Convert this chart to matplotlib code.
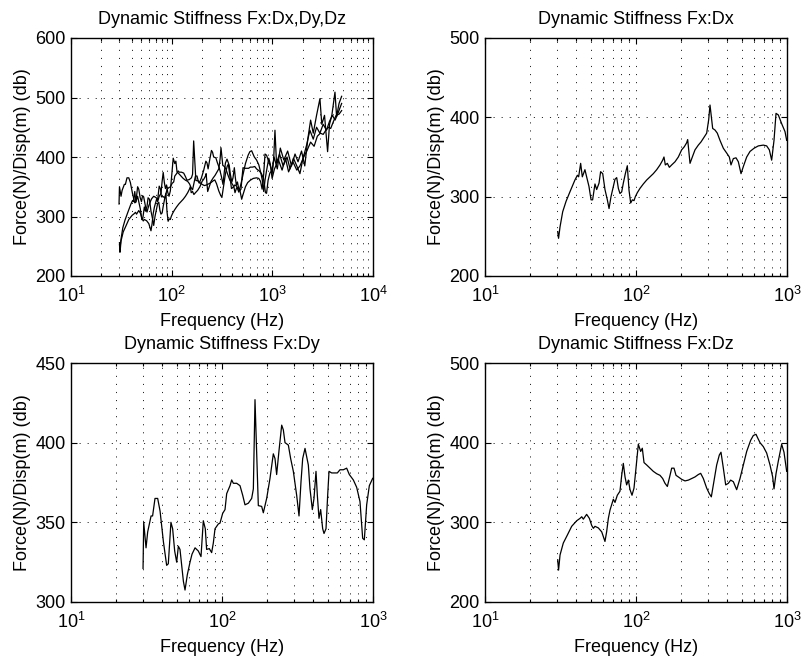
import numpy as np
import matplotlib
matplotlib.use("Agg")
import matplotlib.pyplot as plt
from matplotlib.ticker import LogLocator, FixedLocator, NullFormatter

plt.rcParams['font.family'] = ['Liberation Sans', 'DejaVu Sans']
plt.rcParams['mathtext.fontset'] = 'custom'
plt.rcParams['mathtext.rm'] = 'Liberation Sans'
plt.rcParams['mathtext.it'] = 'Liberation Sans:italic'
plt.rcParams['lines.scale_dashes'] = False

# ── Data (Hz, dB) ─────────────────────────────────────────────────────────────
dx_freq = [30.3, 30.7, 31.4, 32.7, 34.4, 36.5, 39.4, 40.9, 41.7, 43.0,
           44.1, 45.9, 47.1, 48.8, 50.4, 51.6, 53.5, 54.9, 56.9, 58.3,
           60.2, 62.3, 64.6, 66.3, 68.3, 70.8, 72.6, 74.5, 76.4, 78.3,
           80.4, 82.4, 85.0, 87.6, 89.9, 92.2, 94.6, 97.0, 99.0, 102,
           106.3, 111.8, 117.7, 123.8, 130.2, 137.1, 144.2, 150.2, 153.2, 156.4,
           161.3, 166.3, 172.3, 181.3, 190.7, 200.6, 209, 216.6, 219.9, 227.9,
           236.1, 245.9, 258.7, 269.5, 279.2, 293.8, 302.9, 309.1, 315.4, 321.9,
           333.6, 345.6, 359.9, 378.8, 398.5, 415, 425.7, 441.2, 459.5, 476.1,
           496, 513.9, 540.8, 568.9, 604.6, 646, 697, 733.4, 763.8, 791.5,
           820.3, 845.8, 876.1, 921.9, 970, 995]
dx_db = [256, 247.5, 262, 281, 294, 306, 321, 327, 325, 342,
         325, 334, 325, 313, 296, 296, 316, 309, 317, 331.5,
         329, 309, 296, 285, 300, 313, 322, 324, 310.5, 304,
         306, 317, 329, 339, 308, 292, 296, 295, 300, 305,
         310.5, 316, 321, 325, 329, 334, 340, 346, 350, 340,
         342, 337, 340, 344, 350, 359, 363, 368, 372, 342,
         350, 359, 365, 369, 373.5, 380, 397, 415.5, 401, 386,
         384, 380, 371, 361, 355, 350, 340, 348, 349, 344,
         329, 338, 350, 357, 361, 364, 365, 364, 359, 346,
         371, 405, 403, 392, 382, 371]

dy_freq = [30, 30.3, 31.4, 32.2, 33.9, 34.7, 36.0, 37.5, 38.9, 40.9,
           43.0, 44.1, 45.9, 47.1, 48.6, 50.1, 51.4, 52.7, 55.5, 56.9,
           58.9, 61.4, 63.3, 66.3, 69.7, 72.6, 75.2, 77.5, 79.1, 82.4,
           85.4, 87.6, 89.9, 94.6, 97.0, 101, 104.7, 107.4, 113, 115.9,
           118.9, 125.1, 131.6, 137.1, 142, 149.4, 157.2, 161.3, 165.4, 174,
           183.1, 187.8, 197.6, 207.9, 218.7, 224.4, 230.1, 238.5, 248.5, 254.8,
           261.4, 275, 284.9, 296.8, 312.2, 323.6, 333.6, 342.2, 354.6, 373,
           382.6, 396.5, 406.7, 419.3, 427.9, 438.9, 450.2, 464.2, 473.8, 488.4,
           501, 511.3, 532.5, 560.2, 580.5, 604.6, 636.1, 669.2, 697, 740.9,
           779.5, 820, 854.2, 876.1, 908, 945.6, 995]
dy_db = [321, 350, 334, 344, 354, 354, 365, 365, 357, 338,
         323, 324, 350, 346, 332, 325, 335, 333, 313, 307.5,
         317, 325, 330, 334, 332, 328.5, 351, 346, 333, 333.5,
         331, 337, 346, 349, 349.5, 355.6, 358, 368, 373, 376.6,
         374.5, 374.5, 373, 367, 361, 362, 365, 371, 427, 360.5,
         360, 356, 365, 377.6, 393, 390, 380, 395, 411, 408,
         400, 398.5, 390, 382, 367, 354, 375.5, 390, 396.4, 386,
         371, 358, 365, 382, 367, 352.5, 358, 346, 343, 346,
         367, 382, 381, 381, 381, 383, 383, 384, 380, 376.6,
         372, 363, 340, 339, 361, 373, 377.6]

dz_freq = [30.3, 30.7, 31.4, 33.0, 35.1, 37.5, 40.5, 42.6, 43.7, 44.8,
           47.1, 49.1, 50.9, 52.2, 53.5, 56.3, 59.3, 62.3, 63.9, 65.6,
           67.3, 70.8, 72.6, 75.2, 78.3, 80.4, 82.4, 84.6, 86.7, 89.0,
           91.3, 94.1, 97.0, 100, 103.6, 107.4, 110.1, 113, 117.7, 123.8,
           130.2, 137.1, 144.2, 150.2, 155.6, 161.3, 168, 172.3, 178.5, 184.1,
           190.7, 200.6, 211.1, 222.2, 233.8, 245.9, 258.7, 268.1, 279.2, 293.8,
           305.9, 315.4, 325.2, 342.2, 356.3, 365.5, 378.8, 392.6, 408.8, 423.6,
           441.2, 464.2, 488.4, 513.9, 540.8, 574.7, 598.4, 623.3, 639.4, 662.6,
           697, 733.4, 771.6, 803.8, 820.3, 845.8, 876.1, 921.9, 955.2, 995]
dz_db = [253, 240, 259, 274, 284, 295, 302, 305, 307, 304,
         310, 305, 296, 292.5, 295, 293, 288, 276, 288, 305,
         315.5, 329, 325, 334, 339, 359, 374, 357, 347, 353,
         341, 334, 343, 368, 398, 389, 393, 375, 372, 368,
         364, 361, 359, 355, 349, 345, 359, 368, 368, 359,
         357, 354, 352, 353, 355, 357, 360, 361.5, 355, 343,
         336, 332, 347, 372, 384.5, 388, 368, 347, 349, 353,
         351, 341, 355, 372, 389, 403, 409, 410.5, 406, 400,
         395, 387, 372, 357, 342, 361, 377, 398, 388, 364]

# above 1 kHz (only shown in the combined plot)
dx_hi_freq = [1030, 1062, 1100, 1180, 1280, 1400, 1500, 1620, 1750, 1880, 2000, 2190,
              2360, 2550, 2750, 2970, 3200, 3450, 3700, 3950, 4200, 4520, 4880]
dx_hi_db = [395, 445, 390, 405, 385, 400, 380, 398, 385, 372, 395, 420,
            445, 430, 450, 440, 455, 445, 460, 470, 462, 475, 490]
dy_hi_freq = [1040, 1120, 1200, 1300, 1420, 1550, 1680, 1800, 1950, 2100, 2250, 2400,
              2550, 2750, 2970, 3100, 3300, 3540, 3700, 3900, 4190, 4350, 4600, 4880]
dy_hi_db = [400, 380, 415, 395, 410, 385, 405, 392, 410, 385, 430, 462,
            440, 470, 498, 455, 470, 409, 455, 470, 509, 468, 490, 502]
dz_hi_freq = [1050, 1150, 1250, 1350, 1450, 1600, 1750, 1880, 2050, 2200, 2400,
              2600, 2800, 3000, 3200, 3400, 3600, 3800, 4050, 4300, 4600, 4880]
dz_hi_db = [380, 395, 378, 398, 375, 392, 378, 385, 400, 410, 425,
            418, 435, 440, 438, 445, 450, 448, 460, 470, 472, 478]

YLABEL = 'Force(N)/Disp(m) (db)'
XLABEL = 'Frequency (Hz)'
FS = 13


def style_axes(ax, xlim, ylim, yticks):
    ax.set_xscale('log')
    ax.set_xlim(*xlim)
    ax.set_ylim(*ylim)
    ax.yaxis.set_major_locator(FixedLocator(yticks))
    ax.xaxis.set_major_locator(LogLocator(base=10, numticks=10))
    ax.xaxis.set_minor_locator(LogLocator(base=10, subs=np.arange(2, 10), numticks=20))
    ax.xaxis.set_minor_formatter(NullFormatter())
    ax.tick_params(which='both', direction='in', top=True, right=True,
                   labelsize=13, width=0.8)
    ax.tick_params(which='major', length=4)
    ax.tick_params(which='minor', length=2.2)
    ax.tick_params(axis='x', which='major', pad=7)
    ax.tick_params(axis='y', which='major', pad=4)
    grid_kw = dict(color='k', lw=0.6, ls=(0, (0.8, 5)))
    ax.grid(True, which='major', **grid_kw)
    ax.grid(True, which='minor', axis='x', **grid_kw)
    for sp in ax.spines.values():
        sp.set_linewidth(1.0)
    ax.set_xlabel(XLABEL, fontsize=FS, labelpad=5)
    ax.set_ylabel(YLABEL, fontsize=FS, labelpad=3)


fig = plt.figure(figsize=(8.04, 6.65), dpi=100)
W, H = 804, 665
ax_tl = fig.add_axes([71 / W, 1 - 276 / H, 302 / W, 238 / H])
ax_tr = fig.add_axes([485 / W, 1 - 276 / H, 302 / W, 238 / H])
ax_bl = fig.add_axes([71 / W, 1 - 602 / H, 302 / W, 239 / H])
ax_br = fig.add_axes([485 / W, 1 - 602 / H, 302 / W, 239 / H])

lw = 0.9
ax_tl.plot(dx_freq + dx_hi_freq, dx_db + dx_hi_db, color='k', lw=lw)
ax_tl.plot(dy_freq + dy_hi_freq, dy_db + dy_hi_db, color='k', lw=lw)
ax_tl.plot(dz_freq + dz_hi_freq, dz_db + dz_hi_db, color='k', lw=lw)
style_axes(ax_tl, (10, 1e4), (200, 600), [200, 300, 400, 500, 600])
ax_tl.set_title('Dynamic Stiffness Fx:Dx,Dy,Dz', fontsize=FS, pad=10)

ax_tr.plot(dx_freq, dx_db, color='k', lw=lw)
style_axes(ax_tr, (10, 1e3), (200, 500), [200, 300, 400, 500])
ax_tr.set_title('Dynamic Stiffness Fx:Dx', fontsize=FS, pad=10)

ax_bl.plot(dy_freq, dy_db, color='k', lw=lw)
style_axes(ax_bl, (10, 1e3), (300, 450), [300, 350, 400, 450])
ax_bl.set_title('Dynamic Stiffness Fx:Dy', fontsize=FS, pad=10)

ax_br.plot(dz_freq, dz_db, color='k', lw=lw)
style_axes(ax_br, (10, 1e3), (200, 500), [200, 300, 400, 500])
ax_br.set_title('Dynamic Stiffness Fx:Dz', fontsize=FS, pad=10)

fig.savefig('out.png', dpi=100, facecolor='white')
